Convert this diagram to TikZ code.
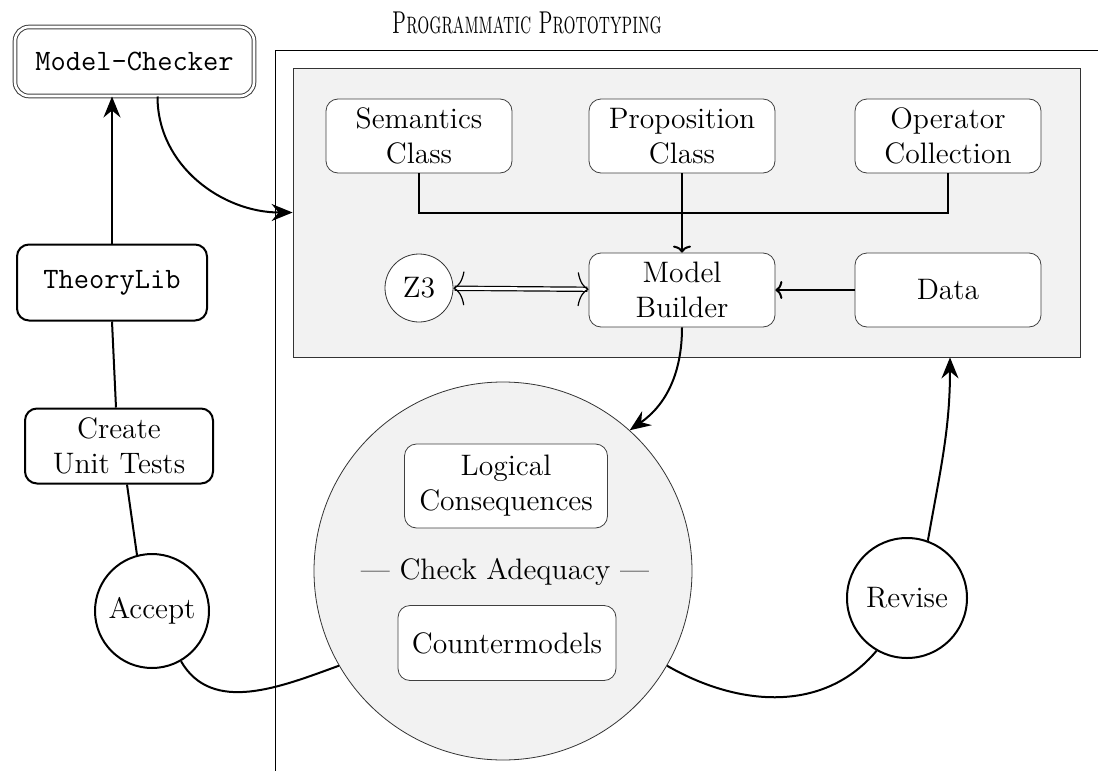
\documentclass[tikz,border=0pt]{standalone}
\usetikzlibrary{arrows.meta,calc}
\begin{document}
\begin{tikzpicture}[x=0.5pt,y=0.5pt,
  every node/.style={font=\fontsize{14.8}{17.5}\selectfont},
  ibox/.style={draw=black!75, fill=white, rounded corners=6pt, minimum width=93pt, minimum height=37pt, align=center, inner sep=2pt},
  lbox/.style={draw=black, line width=1pt, fill=white, rounded corners=6pt, minimum width=94pt, minimum height=37.5pt, align=center, inner sep=2pt},
  dbox/.style={draw=black!75, double, double distance=1.3pt, line width=0.5pt, fill=white, rounded corners=7pt, minimum width=119.5pt, minimum height=34.5pt, align=center},
  lcirc/.style={draw=black, line width=1pt, fill=white, circle, inner sep=1pt},
  conn/.style={line width=1pt},
  tip/.style={-{Stealth[length=10.5pt,width=8.5pt,inset=3.5pt]}},
  itip/.style={-{To[length=3.5pt,width=9pt]}},
  dtip/.style={{To[length=5.5pt,width=17pt]}-{To[length=5.5pt,width=17pt]}}
]
\useasboundingbox (0,0) rectangle (1098,-771);

% frame
\draw[line width=0.5pt] (1098,-50) -- (275,-50) -- (275,-771);
\node[xscale=0.6, transform shape, font=\fontsize{15.8}{18}\selectfont] (title) at (527,-23) {\textsc{Programmatic Prototyping}};

% inner box
\node[draw=black!80, fill=gray!10, minimum width=393.5pt, minimum height=144.5pt, inner sep=0pt] (inner) at (686.5,-212.5) {};

\node[ibox] (sem) at (419,-136) {Semantics\\Class};
\node[ibox] (prop) at (682,-136) {Proposition\\Class};
\node[ibox] (opc) at (948,-136) {Operator\\Collection};
\node[draw=black!80, fill=white, circle, minimum size=34pt, inner sep=0pt] (z3) at (419,-288) {Z3};
\node[ibox] (mb) at (682,-290) {Model\\Builder};
\node[ibox] (data) at (948,-290) {Data};

\draw[conn] (sem.south) -- ++(0,-40) -| (opc.south);
\draw[conn,itip] (prop.south) -- (mb.north);
\draw[conn,itip] (data.west) -- (mb.east);
\draw[double, double distance=1.5pt, line width=0.6pt, dtip] (z3) -- (mb);

% left column
\node[dbox] (mc) at (134.5,-61.5) {\ttfamily Model-Checker};
\node[lbox, minimum width=95pt, minimum height=38pt] (tl) at (112,-282.5) {\ttfamily TheoryLib};
\node[lbox] (cut) at (119,-446) {Create\\Unit Tests};
\node[lcirc, minimum size=57pt] (accept) at (152,-611) {Accept};

% check adequacy
\node[draw=black!80, fill=gray!10, circle, minimum size=189pt, inner sep=0pt] (big) at (503,-571) {};
\node[ibox, minimum width=101.5pt, minimum height=42pt] (lc) at (506,-486) {Logical\\Consequences};
\node[ibox, minimum width=109pt, minimum height=37.5pt] (cm) at (507,-643) {Countermodels};
\node (check) at (505,-572) {\textemdash\ Check Adequacy \textemdash};

\node[lcirc, minimum size=60pt] (revise) at (907,-598) {Revise};

% connectors
\draw[conn,tip] ([xshift=11.5pt]mc.south) to[out=-90,in=180] (inner.west);
\draw[conn,tip] (tl.north) -- (tl.north |- mc.south);
\draw[conn] (tl.south) -- ([xshift=-1.5pt]cut.north);
\draw[conn] ([xshift=4pt]cut.south) -- (accept.105);
\draw[conn] (accept.-60) to[out=-60,in=200] (big.210);
\draw[conn,tip] (mb.south) to[out=-90,in=35] (big.48);
\draw[conn] (big.-30) to[out=-30,in=230] (revise.-120);
\draw[conn,tip] (revise.70) to[out=80,in=-90] ($(inner.south)+(263.5,0)$);
\end{tikzpicture}
\end{document}
